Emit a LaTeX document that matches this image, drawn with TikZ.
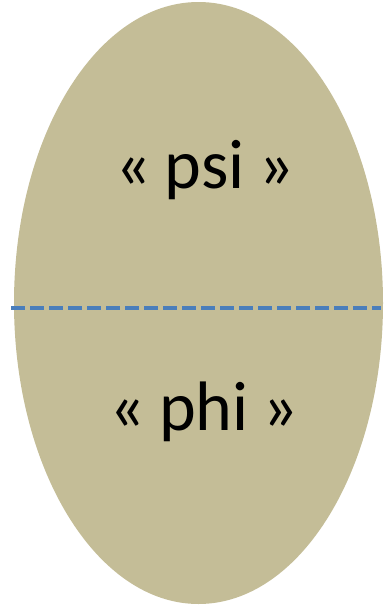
\documentclass[tikz,border=0pt]{standalone}
\usepackage{fontspec}
\setmainfont{Carlito}
\definecolor{tan}{HTML}{C4BD97}
\definecolor{dashblue}{HTML}{4A7EBB}
\tikzset{
  lbl/.style={anchor=base, font=\fontsize{70}{80}\selectfont, text=black, inner sep=0pt},
  divider/.style={draw=dashblue, line width=3.5pt, dash pattern=on 14pt off 5pt}
}
\begin{document}
\begin{tikzpicture}[x=1pt,y=-1pt]
\useasboundingbox (0,0) rectangle (384,605);
\fill[tan] (198.5,303) ellipse [x radius=184.5, y radius=301];
\coordinate (dl) at (11,308);
\coordinate (dr) at (381,308);
\draw[divider] (dl) -- (dr);
\node[lbl] (psi) at (205,188) {«\hspace{0.2em}psi\hspace{0.2em}»};
\node[lbl] (phi) at (204,430) {«\hspace{0.2em}phi\hspace{0.2em}»};
\end{tikzpicture}
\end{document}
